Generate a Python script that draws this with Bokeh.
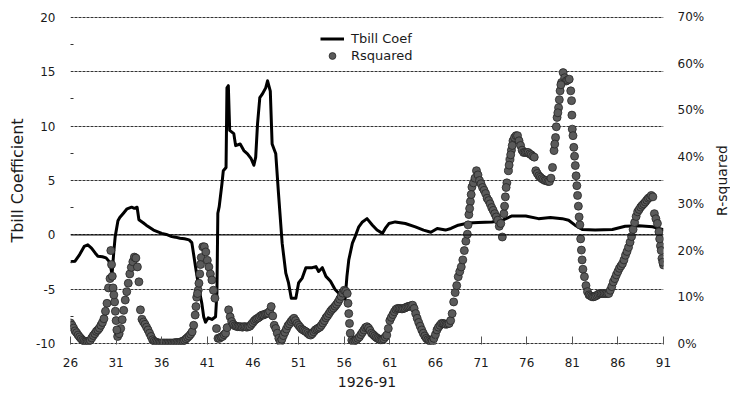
from bokeh.plotting import figure
from bokeh.layouts import row
from bokeh.models import (Range1d, LinearAxis, FixedTicker, PrintfTickFormatter,
                          Legend, LegendItem, Span, ColumnDataSource)
from bokeh.embed import file_html
from bokeh.resources import INLINE

FONT = "DejaVu Sans"
TXT = "#1a1a1a"

# ---- Tbill coefficient (line vertices) ----
tbill_years = [26.0, 26.5, 27.0, 27.5, 27.9, 28.3, 28.7, 29.0, 29.5, 29.9, 30.2, 30.4, 30.55,
               30.75, 30.9, 31.2, 31.4, 31.8, 32.2, 32.7, 33.0, 33.3, 33.5, 34.0, 34.3, 35.1,
               36.0, 36.5, 37.1, 37.5, 38.0, 38.5, 39.0, 39.3, 39.7, 40.1, 40.4, 40.6, 40.8,
               41.1, 41.5, 41.9, 42.05, 42.15, 42.3, 42.6, 42.75, 43.05, 43.15, 43.3, 43.45,
               43.9, 44.1, 44.6, 45.0, 45.4, 45.8, 46.1, 46.3, 46.5, 46.75, 47.0, 47.4, 47.6,
               47.9, 48.1, 48.5, 48.8, 49.2, 49.6, 49.9, 50.2, 50.7, 51.0, 51.4, 51.8, 52.5,
               52.9, 53.2, 53.6, 54.0, 54.5, 55.0, 55.6, 56.1, 56.3, 56.5, 56.9, 57.2, 57.6,
               58.0, 58.5, 59.1, 59.6, 60.2, 60.5, 60.9, 61.6, 62.7, 63.8, 64.7, 65.5, 66.2,
               67.1, 67.7, 68.5, 69.6, 70.7, 72.2, 73.3, 74.4, 75.9, 77.3, 78.6, 79.9, 80.6,
               81.3, 82.1, 83.5, 85.4, 86.8, 88.3, 89.8, 90.9, 91.0]
tbill_coef = [-2.45, -2.4, -1.8, -1.05, -0.9, -1.2, -1.65, -1.95, -2.0, -2.1, -2.4, -2.9, -3.65,
              -1.5, -0.15, 1.3, 1.6, 2.0, 2.4, 2.55, 2.45, 2.55, 1.4, 1.1, 0.9, 0.45,
              0.15, 0.05, -0.15, -0.2, -0.3, -0.35, -0.45, -0.7, -2.9, -5.0, -6.3, -7.5, -8.0,
              -7.6, -7.75, -7.5, -5.3, 2.0, 2.6, 4.7, 5.9, 6.2, 13.5, 13.7, 9.6,
              9.3, 8.2, 8.35, 7.75, 7.45, 7.0, 6.4, 7.15, 10.2, 12.6, 12.9, 13.5, 14.15,
              13.2, 8.35, 7.45, 3.8, -0.75, -3.5, -4.4, -5.8, -5.8, -4.4, -3.95, -3.0, -3.0,
              -2.9, -3.35, -3.0, -3.8, -4.25, -5.0, -5.5, -5.9, -3.8, -2.3, -0.75, -0.15, 0.75,
              1.2, 1.5, 0.9, 0.45, 0.15, 0.6, 1.05, 1.2, 1.05, 0.75, 0.45, 0.25, 0.6,
              0.45, 0.6, 0.9, 1.1, 1.15, 1.2, 1.35, 1.75, 1.75, 1.5, 1.6, 1.5, 1.35,
              0.9, 0.5, 0.45, 0.5, 0.8, 0.85, 0.75, 0.5, 0.5]

# ---- R-squared (%), six readings per year starting 1926 ----
rsq_start = 26
rsq_per_year = 6
rsq = [
    4.5, 4.0, 3.4, 2.8, 2.4, 1.9,        # 26
    1.5, 1.1, 0.8, 0.6, 0.5, 0.5,        # 27
    0.6, 0.8, 1.3, 1.8, 2.2, 2.7,        # 28
    3.0, 3.4, 4.0, 4.6, 5.4, 7.0,        # 29
    8.7, 12.0, 14.0, 17.0, 12.0, 9.0,    # 30
    5.0, 1.6, 2.2, 3.3, 5.2, 7.2,        # 31
    9.4, 11.2, 13.0, 15.0, 16.4, 17.6,   # 32
    18.6, 18.4, 16.5, 13.3, 7.3, 5.3,    # 33
    4.7, 4.2, 3.6, 3.0, 2.3, 1.6,        # 34
    0.9, 0.6, 0.4, 0.3, 0.2, 0.2,        # 35
    0.2, 0.2, 0.2, 0.2, 0.2, 0.2,        # 36
    0.2, 0.2, 0.2, 0.3, 0.3, 0.3,        # 37
    0.3, 0.5, 0.6, 0.8, 1.1, 1.4,        # 38
    1.7, 2.1, 2.6, 4.0, 6.2, 10.0,       # 39
    11.5, 15.0, 18.5, 20.8, 20.8, 19.7,  # 40
    17.9, 16.5, 15.0, 13.7, 11.5, 9.8,   # 41
    3.3, 1.2, 1.2, 1.5, 1.6, 2.0,        # 42
    2.3, 3.5, 7.3, 5.8, 4.8, 4.2,        # 43
    3.9, 3.8, 3.7, 3.7, 3.7, 3.6,        # 44
    3.7, 3.7, 3.6, 3.7, 3.8, 4.2,        # 45
    4.6, 5.0, 5.3, 5.5, 5.7, 6.0,        # 46
    6.2, 6.2, 6.4, 6.5, 6.6, 7.0,        # 47
    8.0, 6.0, 4.0, 3.3, 2.3, 1.2,        # 48
    0.5, 1.0, 1.8, 2.5, 3.2, 3.9,        # 49
    4.3, 4.8, 5.2, 5.5, 5.0, 4.4,        # 50
    4.0, 3.6, 3.2, 3.0, 2.8, 2.6,        # 51
    2.3, 2.0, 1.9, 2.2, 2.6, 3.0,        # 52
    3.2, 3.4, 3.6, 4.0, 4.5, 5.0,        # 53
    5.6, 6.0, 6.5, 7.0, 7.4, 7.7,        # 54
    8.1, 8.5, 9.0, 9.6, 10.2, 10.9,      # 55
    11.5, 11.3, 10.8, 6.5, 2.3, 0.8,     # 56
    0.5, 0.7, 0.9, 1.2, 1.5, 2.0,        # 57
    2.5, 3.0, 3.5, 3.7, 3.4, 2.9,        # 58
    2.3, 2.0, 1.7, 1.4, 1.2, 1.0,        # 59
    0.85, 0.9, 1.1, 1.5, 1.9, 3.3,       # 60
    5.0, 5.7, 6.3, 6.9, 7.4, 7.6,        # 61
    7.6, 7.6, 7.5, 7.6, 7.7, 7.9,        # 62
    8.0, 8.1, 8.2, 8.3, 7.6, 6.5,        # 63
    5.5, 4.6, 3.8, 3.0, 2.3, 1.7,        # 64
    1.2, 0.9, 0.7, 0.5, 0.6, 1.2,        # 65
    2.0, 3.0, 3.6, 4.0, 4.4, 4.4,        # 66
    4.3, 4.2, 4.3, 4.4, 5.0, 6.5,        # 67
    9.0, 11.0, 12.5, 14.4, 15.5, 16.5,   # 68
    18.0, 20.0, 22.0, 23.5, 27.7, 30.5,  # 69
    33.6, 34.5, 35.5, 37.1, 36.2, 35.0,  # 70
    34.3, 33.5, 32.9, 32.2, 31.2, 30.7,  # 71
    30.0, 29.2, 28.6, 27.9, 27.2, 26.5,  # 72
    25.2, 25.8, 22.9, 27.9, 31.5, 34.5,  # 73
    37.1, 39.5, 41.5, 43.5, 44.2, 44.6,  # 74
    44.6, 43.5, 42.5, 41.5, 41.0, 41.0,  # 75
    41.0, 41.0, 40.7, 40.5, 40.2, 40.0,  # 76
    37.1, 36.5, 36.0, 35.7, 35.4, 35.2,  # 77
    35.0, 35.0, 34.8, 34.8, 35.5, 37.8,  # 78
    41.4, 44.2, 48.5, 50.6, 54.2, 56.0,  # 79
    58.1, 57.0, 56.3, 56.5, 56.7, 54.2,  # 80
    46.0, 42.1, 38.2, 33.9, 29.5, 25.5,  # 81
    20.1, 16.0, 14.4, 12.5, 11.2, 10.5,  # 82
    10.3, 10.1, 10.1, 10.2, 10.4, 10.6,  # 83
    10.8, 10.8, 10.8, 10.8, 10.8, 10.8,  # 84
    10.8, 11.5, 12.3, 13.3, 14.0, 14.8,  # 85
    15.5, 16.2, 16.7, 17.2, 18.0, 19.0,  # 86
    19.8, 20.7, 21.8, 23.0, 24.5, 26.0,  # 87
    27.3, 28.3, 28.8, 29.3, 29.7, 30.0,  # 88
    30.4, 30.8, 31.2, 31.4, 31.8, 31.5,  # 89
    27.9, 26.8, 25.8, 24.0, 21.0, 18.3,  # 90
    16.9,                                # 91
]
# additional readings in steep stretches
rsq_extra_years = [30.42, 30.58, 30.75, 30.92, 31.08, 39.75, 39.92, 40.08, 40.25, 56.42, 56.58,
                   69.58, 69.75, 69.92, 73.58, 73.75, 74.08, 74.25, 74.42, 79.08, 79.25, 79.42,
                   79.58, 79.75, 80.92, 80.96, 81.08, 81.25, 81.42, 81.58, 81.75, 81.92, 82.08,
                   90.58, 90.75, 90.92]
rsq_extra = [20.0, 14.5, 10.5, 7.0, 3.0, 8.0, 10.8, 13.0, 17.0, 8.7, 4.4,
             25.5, 29.0, 32.0, 29.5, 33.5, 38.3, 40.5, 42.5, 42.8, 46.5, 49.5,
             52.3, 55.5, 52.1, 49.0, 44.6, 40.2, 36.0, 31.8, 27.2, 22.5, 18.0,
             22.5, 20.0, 17.5]

x_ticks = [26, 31, 36, 41, 46, 51, 56, 61, 66, 71, 76, 81, 86, 91]
y_ticks = [-10, -5, 0, 5, 10, 15, 20]
y_minor = [-7.5, -2.5, 2.5, 7.5, 12.5, 17.5]
r_ticks = [0, 10, 20, 30, 40, 50, 60, 70]

rsq_years = [rsq_start + i / rsq_per_year for i in range(len(rsq))]
rsq_src = ColumnDataSource(dict(x=rsq_years + rsq_extra_years, y=rsq + rsq_extra))

# a hair of padding so the 20 / -10 gridlines stay visible at the frame edges
Y0, Y1 = -10.05, 20.05
R0, R1 = (Y0 + 10) * 70 / 30, (Y1 + 10) * 70 / 30

fig = figure(width=710, height=398, output_backend="svg", toolbar_location=None,
             x_range=Range1d(26, 91), y_range=Range1d(Y0, Y1),
             min_border_left=70, min_border_right=47, min_border_top=16, min_border_bottom=54)
fig.extra_y_ranges = {"rsq": Range1d(R0, R1)}
fig.outline_line_color = None
fig.background_fill_color = "white"
fig.border_fill_color = "white"

# gridlines
fig.xgrid.visible = False
fig.ygrid.grid_line_color = "#333333"
fig.ygrid.grid_line_dash = "3 1"
fig.ygrid.grid_line_width = 1
fig.add_layout(Span(location=0, dimension="width", line_color="black", line_width=1))

# left axis
la = fig.yaxis[0]
la.ticker = FixedTicker(ticks=y_ticks, minor_ticks=y_minor)
la.major_label_overrides = {t: str(t) for t in y_ticks}
la.axis_line_color = None
la.major_tick_in = 0
la.major_tick_out = 0
la.minor_tick_in = 3
la.minor_tick_out = 0
la.minor_tick_line_color = "#333333"
la.major_label_standoff = 15
la.axis_label = "Tbill Coefficient"
la.axis_label_standoff = 6

# bottom axis
ba = fig.xaxis[0]
ba.ticker = FixedTicker(ticks=x_ticks)
ba.axis_line_color = None
ba.major_tick_in = 8
ba.major_tick_out = 0
ba.minor_tick_in = 0
ba.minor_tick_out = 0
ba.major_tick_line_color = "#555555"
ba.minor_tick_line_color = None
ba.major_label_standoff = 13
ba.axis_label = "1926-91"
ba.axis_label_standoff = 7

# right axis (tick labels only; its title sits in the narrow strip beside)
ra = LinearAxis(y_range_name="rsq", ticker=FixedTicker(ticks=r_ticks),
                formatter=PrintfTickFormatter(format="%d%%"))
ra.axis_line_color = None
ra.major_tick_line_color = None
ra.minor_tick_line_color = None
ra.major_tick_in = 0
ra.major_tick_out = 0
ra.minor_tick_in = 0
ra.minor_tick_out = 0
ra.major_label_standoff = 14
fig.add_layout(ra, "right")

for ax in (la, ba, ra):
    ax.major_label_text_font = FONT
    ax.major_label_text_font_size = "12px"
    ax.major_label_text_color = TXT
    ax.axis_label_text_font = FONT
    ax.axis_label_text_font_style = "normal"
    ax.axis_label_text_color = TXT
la.axis_label_text_font_size = "16px"
ba.axis_label_text_font_size = "14px"

line_r = fig.line(tbill_years, tbill_coef, line_color="black", line_width=3, line_join="round")
sc_r = fig.scatter("x", "y", source=rsq_src, y_range_name="rsq", size=8,
                   fill_color="#5a5a5a", line_color="#262626", line_width=0.8)

legend = Legend(items=[LegendItem(label="Tbill Coef", renderers=[line_r]),
                       LegendItem(label="Rsquared", renderers=[sc_r])],
                location=(250, 280), background_fill_alpha=0, border_line_color=None,
                label_text_font=FONT, label_text_font_size="13px", label_text_color=TXT,
                glyph_width=24, glyph_height=17, label_height=17, label_standoff=7,
                padding=0, margin=0, spacing=0)
fig.add_layout(legend)

# narrow strip carrying the secondary-axis title, reading bottom-to-top like the original
strip = figure(width=20, height=398, output_backend="svg", toolbar_location=None,
               x_range=Range1d(0, 1), y_range=Range1d(R0, R1),
               min_border_left=18, min_border_right=0, min_border_top=16, min_border_bottom=54)
strip.outline_line_color = None
strip.grid.visible = False
strip.xaxis.visible = False
sa = strip.yaxis[0]
sa.ticker = FixedTicker(ticks=[])
sa.axis_line_color = None
sa.major_tick_in = 0
sa.major_tick_out = 0
sa.minor_tick_in = 0
sa.minor_tick_out = 0
sa.major_label_standoff = 0
sa.axis_label = "R-squared"
sa.axis_label_standoff = 0
sa.axis_label_text_font = FONT
sa.axis_label_text_font_size = "14px"
sa.axis_label_text_font_style = "normal"
sa.axis_label_text_color = TXT

p = row(fig, strip, spacing=0)

open("out.html", "w").write(file_html(p, INLINE))
